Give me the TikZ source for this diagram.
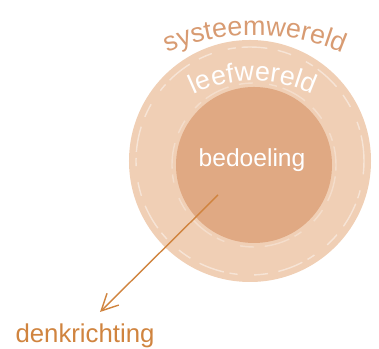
\documentclass[tikz,border=0pt]{standalone}
\usepackage{fontspec}
\setmainfont{Liberation Sans}
\usetikzlibrary{arrows.meta, positioning, decorations.text}

\definecolor{ringouter}{RGB}{240,207,181}
\definecolor{ringinner}{RGB}{224,169,131}
\definecolor{systext}{RGB}{216,155,114}
\definecolor{dirtext}{RGB}{208,132,63}

\newcommand{\sysfont}{\fontsize{23}{26}\selectfont}
\newcommand{\leeffont}{\fontsize{23}{26}\selectfont}

\begin{document}
\begin{tikzpicture}[
    x=0.03cm, y=0.03cm,
    worldcircle/.style={circle, inner sep=0pt},
    worldlabel/.style={font=\fontsize{21}{24}\selectfont, text=white, inner sep=1pt},
    dirlabel/.style={font=\fontsize{22}{25}\selectfont, text=dirtext, inner sep=1pt},
    streak/.style={draw=white, opacity=0.45, line width=1.2pt,
        dash pattern=on 22pt off 5pt on 7pt off 14pt on 12pt off 9pt},
    dirarrow/.style={-{Straight Barb[length=5mm, width=5mm]}, draw=dirtext, line width=1.2pt}
]
\useasboundingbox (0,0) rectangle (379,349);

% ============ CIRCLES ============
\node[worldcircle, fill=ringouter, minimum size=7.26cm] (systeem) at (250,188) {};
\node[worldcircle, fill=ringinner, minimum size=4.68cm] (bedoelcirc) at (254,184) {};

% streaky edges
\draw[streak] (systeem.center) circle[radius=114];
\draw[streak, dash phase=6pt, opacity=0.3] (bedoelcirc.center) circle[radius=82];

% ============ LABELS ============
\node[worldlabel] (bedoeling) at (252,189) {bedoeling};
\path[decorate, decoration={text along path, text align=center,
    text={|\sysfont\color{systext}|systeemwereld}}]
    (255,93) ++(125:221) arc[start angle=125, end angle=55, radius=221];
\path[decorate, decoration={text along path, text align=center,
    text={|\leeffont\color{white}|leefwereld}}]
    (253,128) ++(130:140) arc[start angle=130, end angle=50, radius=140];

% ============ DIRECTION ============
\node[dirlabel] (denk) at (85,13) {denkrichting};
\coordinate (dirstart) at (218,154);
\coordinate (dirend) at (100,37);
\draw[dirarrow] (dirstart) -- (dirend);

\end{tikzpicture}
\end{document}
